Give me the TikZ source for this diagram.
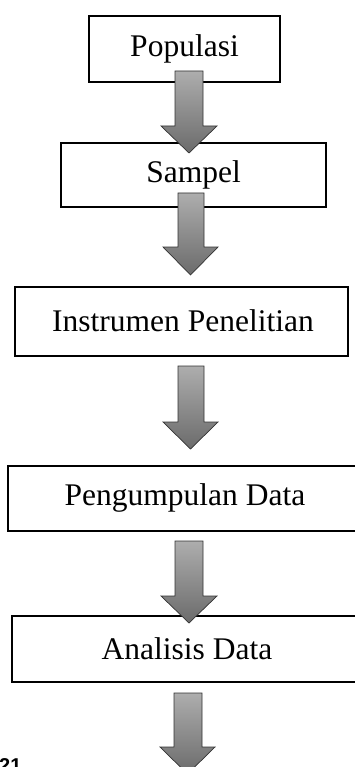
\documentclass[tikz,border=0pt]{standalone}
\usepackage{fontspec}
\setmainfont{Liberation Serif}
\newfontfamily\numfont{Liberation Sans}
\begin{document}
\begin{tikzpicture}[x=1pt,y=-1pt,
  boxstyle/.style={draw=black,line width=1.3pt,fill=white},
  boxtext/.style={font=\fontsize{31.5}{36}\selectfont,inner sep=0pt},
  arrowstyle/.style={draw=black!80,line width=0.7pt,top color=black!32,bottom color=black!58}]
\useasboundingbox (0,0) rectangle (355,767);
% boxes
\draw[boxstyle] (89,16) rectangle (280,82);
\node[boxtext] (pop) at (184.5,49) {Populasi};
\draw[boxstyle] (61,143) rectangle (326,207);
\node[boxtext] (sam) at (193.5,175) {Sampel};
\draw[boxstyle] (15,287) rectangle (348,356);
\node[boxtext] (ins) at (183,321) {Instrumen Penelitian};
\draw[boxstyle] (8,466) rectangle (362,531);
\node[boxtext] (pen) at (185,498) {Pengumpulan Data};
\draw[boxstyle] (12,616) rectangle (362,682);
\node[boxtext] (ana) at (187,649) {Analisis Data};
% arrows: #1 shaft left, #2 shaft right, #3 top, #4 head start, #5 head left, #6 head right, #7 tip
\newcommand\downarrowshape[7]{%
  \path[arrowstyle] (#1,#3) -- (#2,#3) -- (#2,#4) -- (#6,#4) -- ({(#5+#6)/2},#7) -- (#5,#4) -- (#1,#4) -- cycle;}
\downarrowshape{175}{203}{71}{126}{161}{217}{153}
\downarrowshape{178}{204}{193}{247}{163}{218}{275}
\downarrowshape{178}{204}{366}{422}{163}{218}{449}
\downarrowshape{175}{203}{541}{596}{161}{217}{623}
\downarrowshape{174}{202}{693}{747}{160}{215}{774}
\node[font=\numfont\bfseries\fontsize{20}{24}\selectfont,anchor=base west,inner sep=0pt] (pg) at (-1,772) {21};
\end{tikzpicture}
\end{document}
